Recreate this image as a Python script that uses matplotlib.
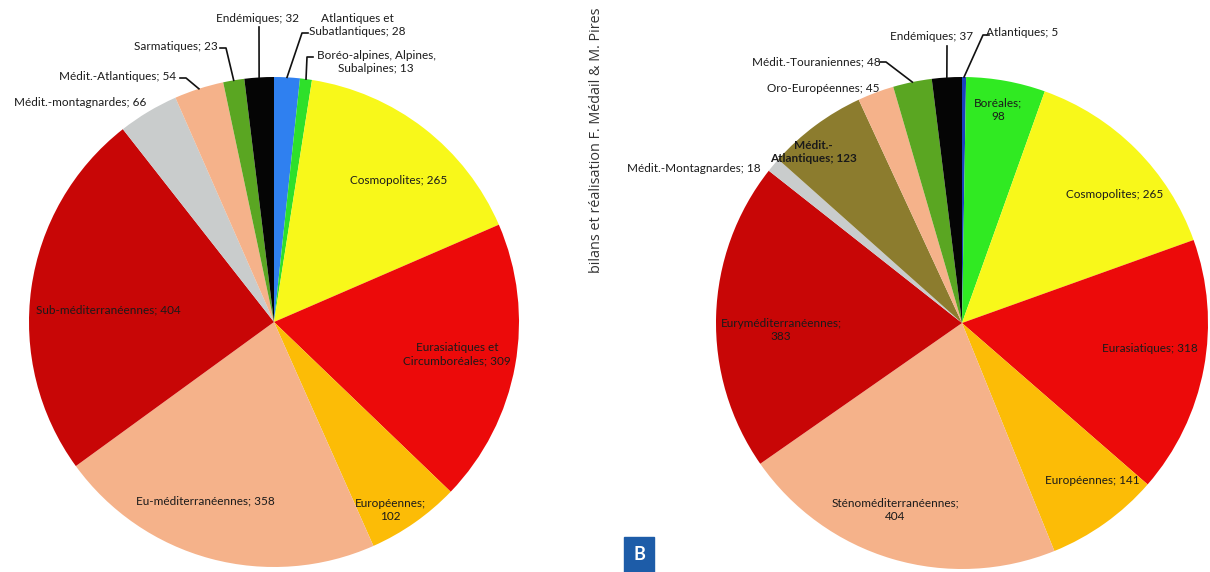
import numpy as np
import matplotlib
matplotlib.use('Agg')
from matplotlib import pyplot as plt
from matplotlib.patches import Rectangle

plt.rcParams['font.family'] = ['Lato', 'DejaVu Sans']

# pie A (left)
labels_a = ['Atlantiques et\nSubatlantiques; 28', 'Boréo-alpines, Alpines,\nSubalpines; 13',
            'Cosmopolites; 265', 'Eurasiatiques et\nCircumboréales; 309', 'Européennes;\n102',
            'Eu-méditerranéennes; 358', 'Sub-méditerranéennes; 404', 'Médit.-montagnardes; 66',
            'Médit.-Atlantiques; 54', 'Sarmatiques; 23', 'Endémiques; 32']
values_a = [28, 13, 265, 309, 102, 358, 404, 66, 54, 23, 32]
colors_a = ['#2f80f0', '#2ee02a', '#f8f81a', '#ec0a0a', '#fcbc06', '#f5b28a', '#c80606',
            '#c9cccc', '#f5b28a', '#5aa622', '#050505']

# pie B (right)
labels_b = ['Atlantiques; 5', 'Boréales;\n98', 'Cosmopolites; 265', 'Eurasiatiques; 318',
            'Européennes; 141', 'Sténoméditerranéennes;\n404', 'Euryméditerranéennes;\n383',
            'Médit.-Montagnardes; 18', 'Médit.-\nAtlantiques; 123', 'Oro-Européennes; 45',
            'Médit.-Touraniennes; 48', 'Endémiques; 37']
values_b = [5, 98, 265, 318, 141, 404, 383, 18, 123, 45, 48, 37]
colors_b = ['#1a3fbf', '#30ea22', '#f8f81a', '#ec0a0a', '#fcbc06', '#f5b28a', '#c80606',
            '#c9cccc', '#8c7c2e', '#f5b28a', '#5aa622', '#050505']

# label centres in image pixels (x, y from top)
pos_a = [(357, 25), (376, 62), (399, 180), (457, 354), (390, 510), (205, 501), (108, 310),
         (80, 102), (118, 77), (176, 47), (258, 18)]
# leader start (image px) or None
lead_a = [(308, 33), (313, 57), None, None, None, None, None, None, (180, 78), (220, 48),
          (259, 27)]
pos_b = [(1022, 32), (998, 110), (1115, 195), (1150, 348), (1092, 480), (895, 510),
         (781, 330), (694, 168), (813, 152), (823, 88), (816, 62), (932, 37)]
lead_b = [(989, 35), None, None, None, None, None, None, None, None, None, (880, 62),
          (947, 46)]

H = 572
fig = plt.figure(figsize=(12.1, 5.72), dpi=100)
ax = fig.add_axes([0, 0, 1, 1])


def draw_pie(values, colors, labels, pos, lead, center, r):
    wedges, _ = ax.pie(values, colors=colors, startangle=90, counterclock=False,
                       center=(center[0], H - center[1]), radius=r, frame=True,
                       wedgeprops=dict(linewidth=0))
    for w, lab, p, ld in zip(wedges, labels, pos, lead):
        bold = lab.startswith('Médit.-\n')
        ax.text(p[0], H - p[1], lab, ha='center', va='center', fontsize=8.5,
                color='#1a1a1a', fontweight='bold' if bold else 'normal', linespacing=1.25)
        if ld is not None:
            mid = np.radians((w.theta1 + w.theta2) / 2)
            ex = center[0] + r * np.cos(mid)
            ey = H - center[1] + r * np.sin(mid)
            # short horizontal tick then straight to the slice
            dx = 6 if ex > ld[0] else -6
            if abs(ex - ld[0]) < 4:
                dx = 0
            ax.plot([ld[0], ld[0] + dx, ex], [H - ld[1], H - ld[1], ey],
                    color='#111111', lw=1.2)


draw_pie(values_a, colors_a, labels_a, pos_a, lead_a, (274, 322), 245)
draw_pie(values_b, colors_b, labels_b, pos_b, lead_b, (962, 323), 246)

ax.text(597, H - 140, 'bilans et réalisation F. Médail & M. Pires', rotation=90,
        ha='center', va='center', fontsize=10.4, color='#333333',
        family=['Open Sans', 'DejaVu Sans'])

ax.add_patch(Rectangle((624, 0), 30, 35, color='#1d5ca8'))
ax.text(639, 17, 'B', ha='center', va='center', fontsize=13, color='white', fontweight='bold')

ax.set_xlim(0, 1210)
ax.set_ylim(0, H)
ax.set_aspect('equal')
ax.axis('off')
fig.savefig('out.png', dpi=100)
